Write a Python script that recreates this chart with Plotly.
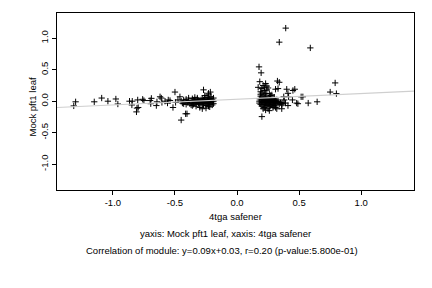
import plotly.graph_objects as go

# Scattered points on the left
left_x = [-1.315, -1.30, -1.15, -1.09, -1.04, -0.976, -0.96, -0.866, -0.844, -0.847, -0.80, -0.806, -0.81,
          -0.796, -0.76, -0.75, -0.70, -0.695, -0.69, -0.645, -0.65, -0.62, -0.61, -0.605, -0.58, -0.56,
          -0.27, -0.23, -0.215, -0.50, -0.46, -0.45, -0.414, -0.403, -0.516, -0.554, -0.54, -0.495, -0.476,
          -0.33, -0.36]
left_y = [-0.075, -0.01, -0.01, 0.05, 0.0, 0.035, -0.045, 0.0, 0.0, -0.06, 0.02, -0.11, -0.17,
          -0.10, 0.03, 0.01, 0.01, -0.04, 0.045, -0.01, -0.07, 0.07, 0.05, -0.02, 0.0, -0.03,
          0.18, 0.125, 0.145, 0.145, 0.07, -0.30, -0.20, -0.20, -0.10, 0.02, 0.01, -0.02, 0.02,
          -0.08, -0.07]

# Dense cluster left of zero
lc_x = [-0.45, -0.44, -0.43, -0.42, -0.41, -0.40, -0.39, -0.38, -0.37, -0.36, -0.36, -0.35, -0.35, -0.34,
        -0.34, -0.33, -0.33, -0.32, -0.32, -0.31, -0.31, -0.30, -0.30, -0.29, -0.29, -0.28, -0.28, -0.28,
        -0.27, -0.27, -0.27, -0.26, -0.26, -0.26, -0.25, -0.25, -0.25, -0.24, -0.24, -0.24, -0.23, -0.23,
        -0.23, -0.22, -0.22, -0.22, -0.21, -0.21, -0.21, -0.20, -0.20, -0.20, -0.19, -0.19, -0.19, -0.30,
        -0.28, -0.25, -0.22, -0.26, -0.23, -0.32, -0.37, -0.39, -0.41, -0.43, -0.34]
lc_y = [0.00, -0.03, 0.02, -0.01, 0.03, -0.02, 0.01, -0.04, 0.00, 0.04, -0.03, 0.01, -0.05, 0.02,
        -0.02, 0.00, -0.04, 0.03, -0.01, -0.03, 0.01, 0.00, -0.05, 0.02, -0.02, 0.04, -0.04, 0.00,
        0.02, -0.06, -0.01, 0.05, 0.01, -0.03, 0.03, -0.02, -0.07, 0.06, 0.00, -0.04, 0.02, -0.02,
        -0.08, 0.04, 0.00, -0.05, 0.02, -0.03, 0.07, -0.01, 0.03, -0.06, 0.00, -0.04, 0.05, -0.10,
        -0.12, -0.11, -0.09, 0.09, 0.10, 0.05, -0.06, 0.05, -0.05, -0.04, 0.06]

# Dense cluster right of zero
rc_x = [0.18, 0.18, 0.18, 0.19, 0.19, 0.19, 0.20, 0.20, 0.20, 0.20, 0.21, 0.21, 0.21, 0.21, 0.22, 0.22,
        0.22, 0.22, 0.23, 0.23, 0.23, 0.23, 0.24, 0.24, 0.24, 0.24, 0.25, 0.25, 0.25, 0.25, 0.26, 0.26,
        0.26, 0.26, 0.27, 0.27, 0.27, 0.28, 0.28, 0.28, 0.29, 0.29, 0.29, 0.30, 0.30, 0.30, 0.31, 0.31,
        0.32, 0.32, 0.33, 0.33, 0.34, 0.35, 0.36, 0.37, 0.19, 0.20, 0.21, 0.22, 0.23, 0.20, 0.22, 0.24,
        0.24, 0.25, 0.19, 0.26, 0.27, 0.28, 0.30, 0.26, 0.23, 0.21, 0.29, 0.31]
rc_y = [0.00, 0.04, -0.03, 0.02, -0.05, 0.08, 0.00, -0.02, 0.05, -0.08, 0.03, -0.01, 0.10, -0.06, 0.01,
        -0.03, 0.06, -0.10, 0.00, 0.04, -0.05, 0.12, 0.02, -0.02, -0.07, 0.08, 0.00, 0.03, -0.04, -0.12,
        0.01, -0.02, 0.05, -0.08, 0.00, -0.05, 0.03, -0.01, 0.02, -0.06, 0.00, -0.03, 0.04, -0.02, 0.01,
        -0.07, 0.00, -0.04, -0.01, 0.02, -0.03, 0.00, -0.05, -0.02, -0.04, -0.03, 0.15, 0.20, 0.25, 0.22,
        0.28, 0.13, 0.17, 0.18, 0.24, 0.21, 0.11, 0.12, 0.09, 0.10, 0.06, -0.15, -0.14, -0.12, -0.10, -0.10]

# Scattered points on the right
right_x = [0.177, 0.194, 0.183, 0.17, 0.20, 0.34, 0.392, 0.59, 0.325, 0.34, 0.31, 0.33, 0.40, 0.41, 0.415,
           0.45, 0.465, 0.376, 0.446, 0.48, 0.49, 0.41, 0.516, 0.53, 0.573, 0.645, 0.75, 0.79, 0.80, 0.29,
           0.32, 0.36, 0.36, 0.38, 0.39]
right_y = [0.545, 0.45, 0.31, 0.22, -0.245, 0.937, 1.16, 0.846, 0.32, 0.30, 0.19, 0.20, 0.19, 0.125, 0.07,
           0.17, 0.19, 0.07, 0.02, -0.03, -0.04, -0.07, 0.07, 0.07, -0.03, -0.01, 0.145, 0.29, 0.12, -0.08,
           -0.12, -0.06, -0.12, 0.02, -0.03]

slope = 0.09
intercept = 0.03
x_range = [-1.45, 1.425]
y_range = [-1.41, 1.40]
ticks = [-1.0, -0.5, 0.0, 0.5, 1.0]
tick_text = ["-1.0", "-0.5", "0.0", "0.5", "1.0"]

xs = left_x + lc_x + rc_x + right_x
ys = left_y + lc_y + rc_y + right_y

FONT = "Liberation Sans, Arial, Helvetica, sans-serif"

fig = go.Figure()
fig.add_trace(go.Scatter(
    x=xs, y=ys, mode="markers",
    marker=dict(symbol="cross-thin", size=4.5, line=dict(width=1, color="black"), color="black"),
    hoverinfo="skip", showlegend=False))
fig.add_trace(go.Scatter(
    x=x_range, y=[slope * v + intercept for v in x_range], mode="lines",
    line=dict(color="#cfcfcf", width=1.2), hoverinfo="skip", showlegend=False))

axis_common = dict(showgrid=False, zeroline=False, showline=True, linecolor="black", linewidth=1,
                   mirror=True, ticks="outside", ticklen=4, tickwidth=1, tickcolor="black",
                   tickvals=ticks, ticktext=tick_text,
                   tickfont=dict(family=FONT, size=9.5, color="black"))

plot_left, plot_w = 57, 432 - 57 - 18

fig.update_layout(
    width=432, height=288,
    margin=dict(l=57, r=18, t=13, b=98),
    plot_bgcolor="white", paper_bgcolor="white",
    xaxis=dict(range=x_range, **axis_common),
    yaxis=dict(range=y_range, tickangle=-90, **axis_common),
    font=dict(family=FONT, size=9.5, color="black"),
    annotations=[
        dict(text="4tga safener", x=0.5, y=-0.147, xref="paper", yref="paper",
             showarrow=False, xanchor="center", yanchor="middle"),
        dict(text="Mock pft1 leaf", x=-0.068, y=0.47, xref="paper", yref="paper", textangle=-90,
             showarrow=False, xanchor="center", yanchor="middle"),
        dict(text="yaxis: Mock pft1 leaf, xaxis: 4tga safener", x=(225 - plot_left) / plot_w, y=-0.243,
             xref="paper", yref="paper", showarrow=False, xanchor="center", yanchor="middle"),
        dict(text="Correlation of module: y=0.09x+0.03, r=0.20 (p-value:5.800e-01)",
             x=(222 - plot_left) / plot_w, y=-0.339,
             xref="paper", yref="paper", showarrow=False, xanchor="center", yanchor="middle"),
    ],
)

fig.write_html("out.html")
